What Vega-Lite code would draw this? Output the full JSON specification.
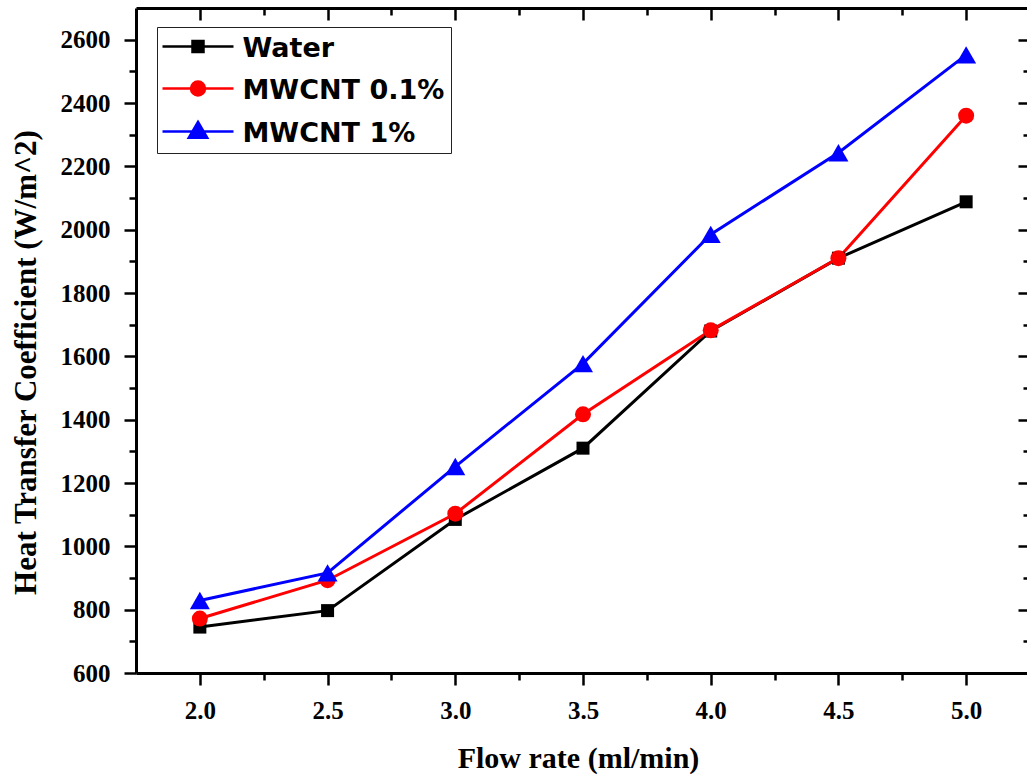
{
  "$schema": "https://vega.github.io/schema/vega-lite/v6.json",
  "width": 894,
  "height": 665,
  "autosize": "none",
  "padding": {"left": 136, "top": 8, "right": 0, "bottom": 107},
  "background": "white",
  "config": {
    "view": {"stroke": null},
    "axis": {
      "grid": false,
      "labelFont": "Liberation Serif",
      "labelFontWeight": "bold",
      "labelFontSize": 25,
      "labelColor": "black",
      "labelOverlap": false,
      "labelFlush": false,
      "labelBound": false,
      "titleFont": "Liberation Serif",
      "titleFontWeight": "bold",
      "titleColor": "black",
      "domainColor": "black",
      "domainWidth": 3,
      "tickColor": "black",
      "tickWidth": 2.5
    }
  },
  "data": {
    "values": [
      {"flow": 2.0, "h": 745, "series": "Water"},
      {"flow": 2.5, "h": 797, "series": "Water"},
      {"flow": 3.0, "h": 1085, "series": "Water"},
      {"flow": 3.5, "h": 1310, "series": "Water"},
      {"flow": 4.0, "h": 1680, "series": "Water"},
      {"flow": 4.5, "h": 1910, "series": "Water"},
      {"flow": 5.0, "h": 2088, "series": "Water"},
      {"flow": 2.0, "h": 772, "series": "MWCNT 0.1%"},
      {"flow": 2.5, "h": 893, "series": "MWCNT 0.1%"},
      {"flow": 3.0, "h": 1103, "series": "MWCNT 0.1%"},
      {"flow": 3.5, "h": 1417, "series": "MWCNT 0.1%"},
      {"flow": 4.0, "h": 1682, "series": "MWCNT 0.1%"},
      {"flow": 4.5, "h": 1910, "series": "MWCNT 0.1%"},
      {"flow": 5.0, "h": 2360, "series": "MWCNT 0.1%"},
      {"flow": 2.0, "h": 829, "series": "MWCNT 1%"},
      {"flow": 2.5, "h": 916, "series": "MWCNT 1%"},
      {"flow": 3.0, "h": 1252, "series": "MWCNT 1%"},
      {"flow": 3.5, "h": 1577, "series": "MWCNT 1%"},
      {"flow": 4.0, "h": 1985, "series": "MWCNT 1%"},
      {"flow": 4.5, "h": 2243, "series": "MWCNT 1%"},
      {"flow": 5.0, "h": 2552, "series": "MWCNT 1%"}
    ]
  },
  "layer": [
    {
      "mark": {"type": "line", "strokeWidth": 3},
      "encoding": {
        "x": {
          "field": "flow", "type": "quantitative",
          "scale": {"domain": [1.75, 5.25], "nice": false, "zero": false},
          "axis": {
            "orient": "bottom",
            "values": [2, 2.25, 2.5, 2.75, 3, 3.25, 3.5, 3.75, 4, 4.25, 4.5, 4.75, 5],
            "format": ".1f",
            "labelExpr": "abs(datum.value * 2 - round(datum.value * 2)) < 0.001 ? datum.label : ''",
            "tickSize": {"condition": {"test": "abs(datum.value * 2 - round(datum.value * 2)) < 0.001", "value": 12}, "value": 7},
            "labelPadding": 13,
            "title": "Flow rate (ml/min)",
            "titleFontSize": 30,
            "titleX": 442,
            "titleY": 94,
            "titleAlign": "center",
            "titleBaseline": "alphabetic",
            "titleAngle": 0
          }
        },
        "y": {
          "field": "h", "type": "quantitative",
          "scale": {"domain": [600, 2700], "nice": false, "zero": false},
          "axis": {
            "orient": "left",
            "values": [600, 700, 800, 900, 1000, 1100, 1200, 1300, 1400, 1500, 1600, 1700, 1800, 1900, 2000, 2100, 2200, 2300, 2400, 2500, 2600],
            "format": "d",
            "labelExpr": "datum.value % 200 === 0 ? datum.label : ''",
            "tickSize": {"condition": {"test": "datum.value % 200 === 0", "value": 12}, "value": 7},
            "labelPadding": 14,
            "title": "Heat Transfer Coefficient (W/m^2)",
            "titleFontSize": 31,
            "titleX": -101,
            "titleY": 354,
            "titleAngle": -90,
            "titleAlign": "center",
            "titleBaseline": "alphabetic"
          }
        },
        "color": {
          "field": "series", "type": "nominal",
          "scale": {"domain": ["Water", "MWCNT 0.1%", "MWCNT 1%"], "range": ["#000000", "#ff0000", "#0000ff"]},
          "legend": {
            "title": null,
            "orient": "none",
            "legendX": 21,
            "legendY": 19,
            "padding": 6,
            "strokeColor": "#222222",
            "fillColor": "white",
            "labelFont": "DejaVu Sans",
            "labelFontWeight": "bold",
            "labelFontSize": 27,
            "labelColor": "black",
            "labelLimit": 400,
            "symbolSize": 400,
            "symbolStrokeWidth": 2.5,
            "symbolOffset": 21.5,
            "labelOffset": 31,
            "rowPadding": 13,
            "encode": {
              "symbols": {
                "update": {
                  "shape": {"signal": "datum.value === 'Water' ? 'M-3.55,0L3.55,0M-0.55,-0.55L0.55,-0.55L0.55,0.55L-0.55,0.55Z' : datum.value === 'MWCNT 0.1%' ? 'M-3.55,0L3.55,0M-0.7,0A0.7,0.7,0,1,1,0.7,0A0.7,0.7,0,1,1,-0.7,0Z' : 'M-3.55,0L3.55,0M0,-0.95L0.92,0.62L-0.92,0.62Z'"},
                  "fill": {"scale": "color", "field": "value"},
                  "stroke": {"scale": "color", "field": "value"},
                  "strokeWidth": {"value": 2.5},
                  "size": {"value": 400},
                  "opacity": {"value": 1},
                  "dy": {"value": 2}
                }
              },
              "labels": {
                "update": {
                  "dy": {"value": 2}
                }
              }
            }
          }
        }
      }
    },
    {
      "mark": {"type": "point", "filled": true, "opacity": 1, "strokeWidth": 0},
      "encoding": {
        "x": {"field": "flow", "type": "quantitative", "axis": null},
        "y": {"field": "h", "type": "quantitative", "axis": null},
        "color": {"field": "series", "type": "nominal"},
        "shape": {
          "field": "series", "type": "nominal",
          "scale": {"range": ["circle", "triangle-up", "square"]},
          "legend": null
        },
        "size": {
          "field": "series", "type": "nominal",
          "scale": {"type": "ordinal", "range": [256, 400, 169]},
          "legend": null
        }
      }
    },
    {
      "mark": {"type": "point", "opacity": 0},
      "encoding": {
        "x": {
          "field": "flow", "type": "quantitative",
          "axis": {
            "orient": "top",
            "values": [2, 2.25, 2.5, 2.75, 3, 3.25, 3.5, 3.75, 4, 4.25, 4.5, 4.75, 5],
            "labels": false,
            "title": null,
            "tickSize": {"condition": {"test": "abs(datum.value * 2 - round(datum.value * 2)) < 0.001", "value": -12}, "value": -7}
          }
        },
        "y": {
          "field": "h", "type": "quantitative",
          "axis": {
            "orient": "right",
            "values": [700, 800, 900, 1000, 1100, 1200, 1300, 1400, 1500, 1600, 1700, 1800, 1900, 2000, 2100, 2200, 2300, 2400, 2500, 2600],
            "labels": false,
            "title": null,
            "tickSize": {"condition": {"test": "datum.value % 200 === 0", "value": -12}, "value": -7}
          }
        }
      }
    }
  ],
  "resolve": {"axis": {"x": "independent", "y": "independent"}}
}
